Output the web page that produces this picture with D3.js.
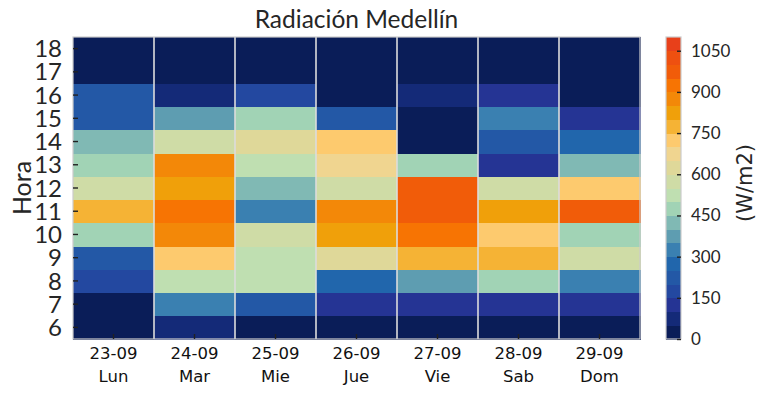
<!DOCTYPE html>
<html>
<head>
<meta charset="utf-8">
<script src="https://cdn.jsdelivr.net/npm/d3@7"></script>
<style>
  html, body { margin: 0; padding: 0; background: #fff; }
  svg { display: block; }
  .dv { font-family: "DejaVu Sans"; }
</style>
</head>
<body>
<svg id="chart" width="767" height="395"></svg>
<script>
// ---- Data ----
const dates = ["23-09", "24-09", "25-09", "26-09", "27-09", "28-09", "29-09"];
const weekdays = ["Lun", "Mar", "Mie", "Jue", "Vie", "Sab", "Dom"];
const hours = [6, 7, 8, 9, 10, 11, 12, 13, 14, 15, 16, 17, 18];
// radiation (W/m2) per day, hours 6..18
const lun = [20, 30, 180, 230, 480, 780, 580, 480, 430, 220, 220, 10, 0];
const mar = [70, 330, 520, 720, 870, 930, 820, 870, 570, 380, 70, 10, 0];
const mie = [30, 220, 530, 520, 570, 330, 420, 520, 620, 470, 170, 10, 0];
const jue = [30, 120, 270, 620, 820, 870, 570, 670, 720, 220, 40, 10, 0];
const vie = [20, 120, 370, 780, 920, 970, 980, 470, 40, 30, 70, 10, 0];
const sab = [20, 120, 480, 770, 720, 820, 570, 130, 230, 320, 120, 10, 0];
const dom = [20, 120, 320, 570, 480, 970, 720, 420, 270, 120, 30, 10, 0];
const series = [lun, mar, mie, jue, vie, sab, dom];
const colorTicks = [0, 150, 300, 450, 600, 750, 900, 1050];
const levelStep = 50;
const levelMax = 1100;
const palette = ["#0a1d58", "#142a78", "#253494", "#2348a0", "#2358a6", "#2166ac",
  "#3a80b1", "#5e9db1", "#80b9b4", "#a1d3b5", "#bfdfb1", "#cfdca6", "#dfd899",
  "#f0d590", "#fdca6e", "#f5b335", "#f0a00a", "#f38808", "#f77403", "#f15c09",
  "#ee5010", "#e8401a"];

// ---- Layout ----
const svg = d3.select("#chart");
const L = 73, R = 640, T = 37, B = 339;
const textColor = "#262626";

const x = d3.scaleBand().domain(dates).range([L, R]).padding(0);
const y = d3.scaleBand().domain(hours.slice().reverse()).range([T, B]).padding(0);
const levels = d3.range(levelStep, levelMax, levelStep);
const color = d3.scaleThreshold().domain(levels).range(palette);

// cells
const cells = [];
dates.forEach((d, i) => hours.forEach((h, j) => cells.push({ d, h, v: series[i][j] })));
svg.append("g").selectAll("rect").data(cells).join("rect")
  .attr("x", c => x(c.d)).attr("y", c => y(c.h))
  .attr("width", x.bandwidth() + 0.5).attr("height", y.bandwidth() + 0.5)
  .attr("fill", c => color(c.v)).attr("shape-rendering", "crispEdges");

// vertical grid lines at column boundaries
svg.append("g").selectAll("line").data(dates.slice(1)).join("line")
  .attr("x1", d => x(d)).attr("x2", d => x(d))
  .attr("y1", T).attr("y2", B)
  .attr("stroke", "#dcdcdc").attr("stroke-width", 1.6);

// frame
svg.append("rect").attr("x", L).attr("y", T).attr("width", R - L).attr("height", B - T)
  .attr("fill", "none").attr("stroke", "#cccccc").attr("stroke-width", 1.2);

// y axis
const yAxis = d3.axisLeft(y).tickSize(-5).tickPadding(11);
const gy = svg.append("g").attr("transform", `translate(${L},0)`).call(yAxis);
gy.select(".domain").remove();
gy.selectAll(".tick line").attr("stroke", "#222").attr("stroke-width", 1.4);
gy.selectAll(".tick text").attr("font-family", "Lato, sans-serif").attr("font-size", 24)
  .attr("fill", textColor).attr("dy", "0.36em");

// x axis
const xAxis = d3.axisBottom(x).tickSize(-5).tickPadding(6).tickFormat(() => "");
const gx = svg.append("g").attr("transform", `translate(0,${B})`).call(xAxis);
gx.attr("font-family", null);
gx.select(".domain").remove();
gx.selectAll(".tick line").attr("stroke", "#222").attr("stroke-width", 1.4);
gx.selectAll(".tick").each(function (d, i) {
  const t = d3.select(this).append("text").attr("class", "dv")
    .attr("font-size", 16.5)
    .attr("fill", "#111").attr("text-anchor", "middle");
  t.append("tspan").attr("x", 0).attr("y", 20).text(d);
  t.append("tspan").attr("x", 0).attr("y", 43).text(weekdays[i]);
});

// y label
svg.append("text").attr("transform", `translate(31,${(T + B) / 2}) rotate(-90)`)
  .attr("text-anchor", "middle").attr("font-family", "Lato, sans-serif")
  .attr("font-size", 25).attr("fill", textColor).text("Hora");

// title
svg.append("text").attr("x", (L + R) / 2).attr("y", 28).attr("text-anchor", "middle")
  .attr("font-family", "Lato, sans-serif").attr("font-size", 24.5)
  .attr("fill", textColor).text("Radiación Medellín");

// colorbar
const cbX = 666, cbW = 15;
const cy = d3.scaleLinear().domain([0, levelMax]).range([B, T]);
const bands = d3.range(0, levelMax, levelStep);
svg.append("g").selectAll("rect").data(bands).join("rect")
  .attr("x", cbX).attr("y", d => cy(d + levelStep)).attr("width", cbW)
  .attr("height", d => cy(d) - cy(d + levelStep) + 0.5)
  .attr("fill", d => color(d + 1)).attr("shape-rendering", "crispEdges");
svg.append("rect").attr("x", cbX).attr("y", T).attr("width", cbW).attr("height", B - T)
  .attr("fill", "none").attr("stroke", "#cccccc").attr("stroke-width", 1.2);
const cAxis = d3.axisRight(cy).tickValues(colorTicks).tickFormat(d3.format("d"))
  .tickSize(-4).tickPadding(10);
const gc = svg.append("g").attr("transform", `translate(${cbX + cbW},0)`).call(cAxis);
gc.select(".domain").remove();
gc.selectAll(".tick line").attr("stroke", "#222").attr("stroke-width", 1.4);
gc.selectAll(".tick text").attr("font-family", "Lato, sans-serif").attr("font-size", 17)
  .attr("fill", textColor);

svg.append("text").attr("class", "dv")
  .attr("transform", `translate(752,${(T + B) / 2 - 5}) rotate(-90)`)
  .attr("text-anchor", "middle")
  .attr("font-size", 21).attr("fill", textColor).text("(W/m2)");
</script>
</body>
</html>
